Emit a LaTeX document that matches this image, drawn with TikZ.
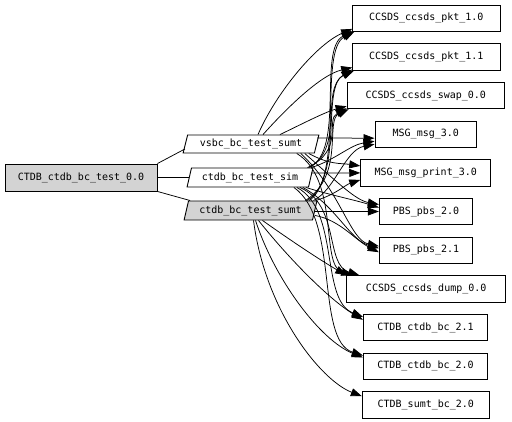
\documentclass[tikz,border=0pt]{standalone}
\usepackage{fontspec}
\setmonofont{DejaVu Sans Mono}
\usetikzlibrary{shapes.geometric,arrows.meta}
\definecolor{lgray}{HTML}{D3D3D3}
\begin{document}
\begin{tikzpicture}[x=1pt,y=-1pt,
  lbl/.style={font=\ttfamily\fontsize{10}{12}\selectfont},
  box/.style={lbl,draw,rectangle,inner sep=0pt,line width=0.9pt},
  para/.style={lbl,draw,trapezium,trapezium left angle=70,trapezium right angle=110,
     trapezium stretches=true,inner sep=0pt,line width=0.9pt},
  dep/.style={line width=0.75pt,-{Triangle[length=11pt,width=8pt]}},
  plainline/.style={line width=0.75pt}]
\useasboundingbox (0,0) rectangle (512,421);
% left node
\node[box,fill=lgray,minimum width=152pt,minimum height=27pt] (root) at (81,177.5) {CTDB\_ctdb\_bc\_test\_0.0};
% middle nodes
\node[para,minimum width=136pt,minimum height=18pt] (V) at (251,144) {vsbc\_bc\_test\_sumt};
\node[para,minimum width=126pt,minimum height=19pt] (S) at (250,177.5) {ctdb\_bc\_test\_sim};
\node[para,fill=lgray,minimum width=133pt,minimum height=19pt] (T) at (250.5,210.5) {ctdb\_bc\_test\_sumt};
% right nodes
\node[box,minimum width=147.3pt,minimum height=26.5pt] (pkt10) at (426.3,18.2) {CCSDS\_ccsds\_pkt\_1.0};
\node[box,minimum width=147.3pt,minimum height=26.5pt] (pkt11) at (426.3,56.8) {CCSDS\_ccsds\_pkt\_1.1};
\node[box,minimum width=157.5pt,minimum height=26.5pt] (swap) at (425.8,95.5) {CCSDS\_ccsds\_swap\_0.0};
\node[box,minimum width=101.7pt,minimum height=26.5pt] (msg) at (425.8,134.2) {MSG\_msg\_3.0};
\node[box,minimum width=130pt,minimum height=26.5pt] (print) at (425.7,172.9) {MSG\_msg\_print\_3.0};
\node[box,minimum width=93.4pt,minimum height=26.5pt] (pbs20) at (426,211.5) {PBS\_pbs\_2.0};
\node[box,minimum width=93.4pt,minimum height=26.5pt] (pbs21) at (426,250.2) {PBS\_pbs\_2.1};
\node[box,minimum width=159pt,minimum height=26.5pt] (dump) at (426.2,288.9) {CCSDS\_ccsds\_dump\_0.0};
\node[box,minimum width=124.4pt,minimum height=26.5pt] (cb21) at (425.5,327.5) {CTDB\_ctdb\_bc\_2.1};
\node[box,minimum width=124.4pt,minimum height=26.5pt] (cb20) at (425.5,366.2) {CTDB\_ctdb\_bc\_2.0};
\node[box,minimum width=127pt,minimum height=26.5pt] (sbc) at (425.8,404.9) {CTDB\_sumt\_bc\_2.0};
% root to middle
\draw[plainline] (root.north east) -- ([yshift=-5pt]V.west);
\draw[plainline] (root.east) -- (S.west);
\draw[plainline] (root.south east) -- ([xshift=2pt]T.top left corner);
% from V
\draw[dep] ([xshift=7pt]V.north) .. controls (275,95) and (315,45) .. ([yshift=3pt]pkt10.south west);
\draw[dep] ([xshift=12pt]V.north) .. controls (285,110) and (320,75) .. ([yshift=3pt]pkt11.south west);
\draw[dep] ([xshift=29pt]V.north) .. controls (300,125) and (325,112) .. ([yshift=3pt]swap.south west);
\draw[dep] ([yshift=6pt]V.east) -- ([yshift=-4pt]msg.west);
\draw[dep] ([xshift=-6pt]V.bottom right corner) .. controls (330,165) and (340,163) .. ([yshift=7pt]print.west);
\draw[dep] ([xshift=-10pt]V.bottom right corner) .. controls (335,180) and (355,200) .. ([yshift=7pt]pbs20.west);
\draw[dep] ([xshift=-14pt]V.bottom right corner) .. controls (340,190) and (350,240) .. ([yshift=4pt]pbs21.west);
\draw[dep] ([xshift=-18pt]V.bottom right corner) .. controls (340,180) and (320,265) .. ([xshift=6pt]dump.north west);
% from S
\draw[dep] ([xshift=-4pt]S.top right corner) .. controls (345,150) and (318,50) .. ([yshift=1pt]pkt10.south west);
\draw[dep] ([xshift=-5pt]S.top right corner) .. controls (345,150) and (320,90) .. ([yshift=1pt]pkt11.south west);
\draw[dep] ([xshift=-6pt]S.top right corner) .. controls (345,150) and (325,120) .. ([yshift=1pt]swap.south west);
\draw[dep] ([xshift=-2pt]S.top right corner) .. controls (335,160) and (350,145) .. ([yshift=-7pt]msg.west);
\draw[dep] ([yshift=4.5pt]S.east) -- (print.west);
\draw[dep] ([xshift=-3pt]S.bottom right corner) .. controls (330,195) and (355,200) .. ([yshift=4pt]pbs20.west);
\draw[dep] ([xshift=-6pt]S.bottom right corner) .. controls (335,205) and (350,240) .. ([yshift=2pt]pbs21.west);
\draw[dep] ([xshift=-9pt]S.bottom right corner) .. controls (340,205) and (325,265) .. ([xshift=13pt]dump.north west);
\draw[dep] ([xshift=-12pt]S.bottom right corner) .. controls (340,210) and (320,300) .. ([yshift=-3pt]cb21.north west);
\draw[dep] ([xshift=-15pt]S.bottom right corner) .. controls (340,220) and (315,340) .. ([yshift=-3pt]cb20.north west);
% from T
\draw[dep] ([xshift=-8pt]T.top right corner) .. controls (345,175) and (318,50) .. ([xshift=2pt]pkt10.south west);
\draw[dep] ([xshift=-10pt]T.top right corner) .. controls (345,175) and (320,85) .. ([xshift=2pt]pkt11.south west);
\draw[dep] ([xshift=-12pt]T.top right corner) .. controls (345,175) and (325,120) .. ([xshift=2pt]swap.south west);
\draw[dep] ([xshift=-4pt]T.top right corner) .. controls (335,190) and (345,150) .. ([yshift=-10pt]msg.west);
\draw[dep] ([xshift=-2pt]T.top right corner) .. controls (335,195) and (345,185) .. ([yshift=-7pt]print.west);
\draw[dep] (T.east |- pbs20.west) -- (pbs20.west);
\draw[dep] ([yshift=-5pt]T.east) .. controls (340,220) and (355,240) .. ([yshift=-2pt]pbs21.west);
\draw[dep] ([xshift=12pt]T.south) .. controls (290,240) and (320,260) .. (dump.north west);
\draw[dep] ([xshift=8pt]T.south) .. controls (290,260) and (330,300) .. ([yshift=-6pt]cb21.north west);
\draw[dep] ([xshift=5pt]T.south) .. controls (275,280) and (320,340) .. ([yshift=-5pt]cb20.north west);
\draw[dep] ([xshift=3pt]T.south) .. controls (265,310) and (320,380) .. ([yshift=-5pt]sbc.north west);
\end{tikzpicture}
\end{document}
